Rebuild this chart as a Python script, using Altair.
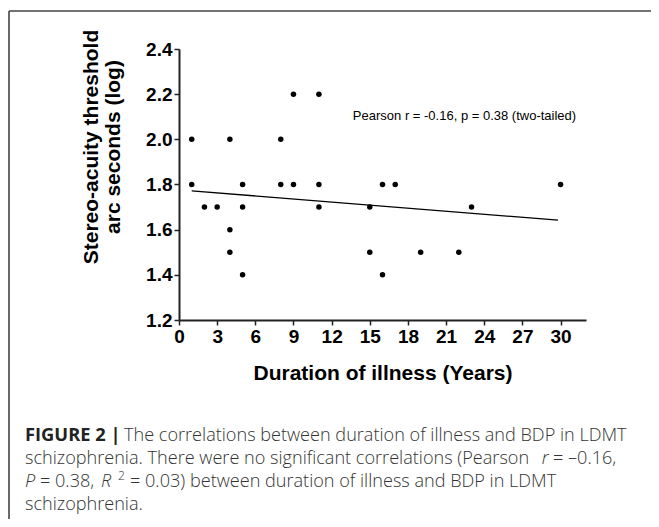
import altair as alt
import pandas as pd

# ---- data ----
duration_years = [1, 1, 2, 3, 4, 4, 4, 5, 5, 5, 8, 8, 9, 9, 11, 11, 11,
                  15, 15, 16, 16, 17, 19, 22, 23, 30]
stereo_log = [2.0, 1.8, 1.7, 1.7, 2.0, 1.6, 1.5, 1.8, 1.7, 1.4, 2.0, 1.8, 2.2, 1.8, 2.2, 1.8, 1.7,
              1.7, 1.5, 1.8, 1.4, 1.8, 1.5, 1.5, 1.7, 1.8]
fit_x = [1, 29.8]
fit_y = [1.772, 1.642]
x_ticks = [0, 3, 6, 9, 12, 15, 18, 21, 24, 27, 30]
y_ticks = [1.2, 1.4, 1.6, 1.8, 2.0, 2.2, 2.4]
x_title = "Duration of illness (Years)"
y_title = ["Stereo-acuity threshold", "arc seconds (log)"]
annotation = "Pearson r = -0.16, p = 0.38 (two-tailed)"
caption_bold = "FIGURE 2 |"
caption_l1 = "The correlations between duration of illness and BDP in LDMT"
caption_l2a = "schizophrenia. There were no significant correlations (Pearson"
caption_l2b = "r"
caption_l2c = "= \u20130.16,"
caption_l3a = "P"
caption_l3b = "= 0.38,"
caption_l3c = "R"
caption_l3d = "2"
caption_l3e = "= 0.03) between duration of illness and BDP in LDMT"
caption_l4 = "schizophrenia."

pts = pd.DataFrame({"x": duration_years, "y": stereo_log})
fit = pd.DataFrame({"x": fit_x, "y": fit_y})
one = pd.DataFrame({"k": [0]})

W, H = 407, 271
FONT = "Liberation Sans"

xscale = alt.Scale(domain=[0, 32], nice=False, zero=False)
yscale = alt.Scale(domain=[1.2, 2.4], nice=False, zero=False)

xaxis = alt.Axis(values=x_ticks, title=x_title, grid=False, labelFlush=False,
                 labelOverlap=False, labelPadding=2, tickSize=5,
                 titleBaseline="alphabetic", titleY=59.5, titleX=W / 2, titleAlign="center")
yaxis = alt.Axis(values=y_ticks, format=".1f", title=y_title, grid=False, labelFlush=False,
                 labelOverlap=False, labelPadding=2, tickSize=5,
                 titleAngle=270, titleAlign="center", titleBaseline="alphabetic",
                 titleX=-81.5, titleY=97.5, titleLineHeight=22)

points = alt.Chart(pts).mark_circle(size=30, color="black", opacity=1).encode(
    x=alt.X("x:Q", scale=xscale, axis=xaxis),
    y=alt.Y("y:Q", scale=yscale, axis=yaxis),
)

line = alt.Chart(fit).mark_line(color="black", strokeWidth=1.3).encode(
    x=alt.X("x:Q", scale=xscale),
    y=alt.Y("y:Q", scale=yscale),
)

CAP = 18.1


def txt(s, x, y, size=CAP, weight="normal", style="normal", font="Open Sans", color="#333",
        align="left"):
    return alt.Chart(one).mark_text(
        align=align, baseline="alphabetic", fontSize=size, fontWeight=weight,
        fontStyle=style, font=font, color=color
    ).encode(x=alt.value(x), y=alt.value(y), text=alt.value(s))


note = txt(annotation, 285.5, 71, size=13, font=FONT, color="black", align="center")

layers = [
    points, line, note,
    txt(caption_bold, -154, 392, size=18.3, weight="bold", color="#222"),
    txt(caption_l1, -55, 392, weight=300),
    txt(caption_l2a, -154, 415, weight=300),
    txt(caption_l2b, 362.7, 415, weight=300, style="italic"),
    txt(caption_l2c, 374, 415, weight=300),
    txt(caption_l3a, -154, 438, weight=300, style="italic"),
    txt(caption_l3b, -139, 438, weight=300),
    txt(caption_l3c, -78, 438, weight=300, style="italic"),
    txt(caption_l3d, -61, 431, size=12, weight=300),
    txt(caption_l3e, -49, 438, weight=300),
    txt(caption_l4, -154, 461, weight=300),
]

frame_top = alt.Chart(one).mark_rule(color="#444", strokeWidth=1.6).encode(
    x=alt.value(-170), x2=alt.value(472), y=alt.value(-38))
frame_left = alt.Chart(one).mark_rule(color="#444", strokeWidth=1.6).encode(
    x=alt.value(-170), y=alt.value(-38), y2=alt.value(470))

chart = alt.layer(*layers, frame_top, frame_left).properties(
    width=W, height=H,
    autosize=alt.AutoSizeParams(type="none"),
    padding={"left": 171, "top": 41, "right": 65, "bottom": 199},
).configure_view(strokeWidth=0).configure_axis(
    labelFont=FONT, labelFontSize=19, labelFontWeight="bold", labelColor="black",
    titleFont=FONT, titleFontSize=21, titleFontWeight="bold", titleColor="black",
    domainColor="#222", domainWidth=2, tickColor="#222", tickWidth=1.5,
)

chart.save("out.html", embed_options={"renderer": "svg", "actions": False})
